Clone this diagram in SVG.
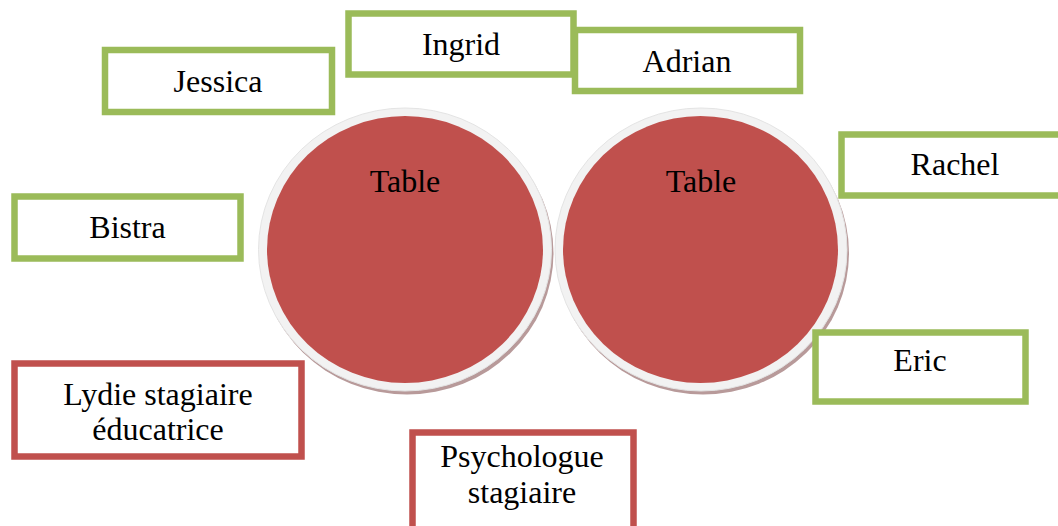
<svg xmlns="http://www.w3.org/2000/svg" width="1058" height="526" viewBox="0 0 1058 526">
  <style>
    .lbl { font-family: 'Liberation Serif', 'Times New Roman', Tinos, 'DejaVu Serif', serif; font-size: 32px; fill: #000; text-anchor: middle; }
    .g { fill: #ffffff; stroke: #9BBB59; stroke-width: 6.5; }
    .r { fill: #ffffff; stroke: #C0504D; stroke-width: 6.5; }
    .shadow { fill: #b89a9a; }
    .ring { fill: #f2f2f2; stroke: #e4e4e4; stroke-width: 1; }
    .tbl { fill: #C0504D; }
  </style>
  <rect width="1058" height="526" fill="#ffffff"/>
  <g id="table1">
    <ellipse class="shadow" cx="407" cy="253" rx="146.5" ry="141.5"/>
    <ellipse class="ring" cx="405" cy="249.5" rx="146.5" ry="141.5"/>
    <ellipse class="tbl" cx="405" cy="249.5" rx="138" ry="133.5"/>
    <text class="lbl" x="405" y="192">Table</text>
  </g>
  <g id="table2">
    <ellipse class="shadow" cx="703" cy="253" rx="146" ry="141.5"/>
    <ellipse class="ring" cx="701" cy="249.5" rx="146" ry="141.5"/>
    <ellipse class="tbl" cx="700.5" cy="249.5" rx="137.5" ry="133.5"/>
    <text class="lbl" x="701" y="192">Table</text>
  </g>
  <g id="jessica">
    <rect class="g" x="105" y="50" width="227" height="62"/>
    <text class="lbl" x="218" y="92">Jessica</text>
  </g>
  <g id="ingrid">
    <rect class="g" x="348.5" y="13.5" width="225" height="61"/>
    <text class="lbl" x="461" y="55">Ingrid</text>
  </g>
  <g id="adrian">
    <rect class="g" x="575" y="30" width="225" height="61"/>
    <text class="lbl" x="687" y="72">Adrian</text>
  </g>
  <g id="rachel">
    <rect class="g" x="841.5" y="134.5" width="226" height="61"/>
    <text class="lbl" x="955" y="175">Rachel</text>
  </g>
  <g id="bistra">
    <rect class="g" x="14.5" y="196.5" width="226" height="62"/>
    <text class="lbl" x="127.5" y="238">Bistra</text>
  </g>
  <g id="eric">
    <rect class="g" x="815.5" y="332.5" width="210" height="69"/>
    <text class="lbl" x="920" y="371">Eric</text>
  </g>
  <g id="lydie">
    <rect class="r" x="14.5" y="363.5" width="287" height="93"/>
    <text class="lbl" x="158" y="405">Lydie stagiaire</text>
    <text class="lbl" x="158" y="440">éducatrice</text>
  </g>
  <g id="psychologue">
    <rect class="r" x="412.5" y="432.5" width="221" height="100"/>
    <text class="lbl" x="522" y="467">Psychologue</text>
    <text class="lbl" x="522" y="503">stagiaire</text>
  </g>
  <g id="connectors"/>
</svg>
